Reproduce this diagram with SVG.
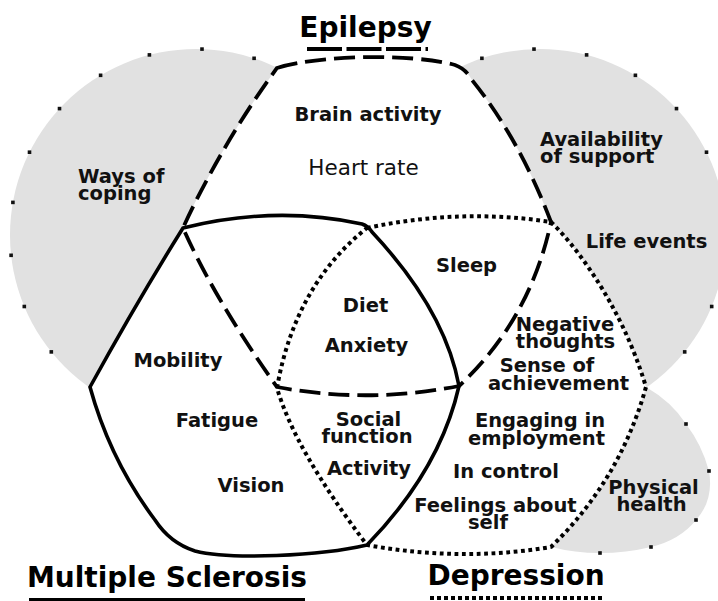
<svg xmlns="http://www.w3.org/2000/svg" xmlns:xlink="http://www.w3.org/1999/xlink" width="718" height="601" viewBox="0 0 718 601">
<style>
  .grey { fill: #e1e1e1; stroke: none; }
  .white { fill: #ffffff; stroke: none; }
  .tick { fill: #111; }
  .ep { fill: none; stroke: #000; stroke-width: 3.8; stroke-dasharray: 21 8; }
  .ms { fill: none; stroke: #000; stroke-width: 3.6; }
  .dep { fill: none; stroke: #000; stroke-width: 4; stroke-dasharray: 3.8 3.6; }
  .lbl { font-family: "DejaVu Sans", Verdana, sans-serif; font-weight: bold; font-size: 19.5px; fill: #111; text-anchor: middle; }
  .st { text-anchor: start; }
  .reg { font-weight: normal; font-size: 21.5px; }
  .title { font-family: "DejaVu Sans", Verdana, sans-serif; font-weight: bold; font-size: 28px; fill: #000; text-anchor: middle; }
</style>
<defs>
  <path id="p-ep" d="M 277,68 C 320,55 410,53 455,65 Q 466,69 472,80 Q 520,140 551,222 Q 530,320 459,386 Q 368,404 277,387 Q 215,300 183,228 C 200,190 235,125 277,68 Z"/>
  <path id="p-ms" d="M 183,228 Q 275,205 362,224 Q 368,226 372,232 Q 445,310 459,386 Q 440,470 367,545 C 320,556 230,560 195,551 Q 170,543 155,520 Q 110,460 90,387 Q 138,300 183,228 Z"/>
  <path id="p-dep" d="M 367,228 Q 460,208 551,222 C 570,240 620,300 646,387 Q 620,480 551,547 Q 460,562 367,545 Q 295,450 277,388 Q 295,285 367,228 Z"/>
  <rect id="dot" x="-1.8" y="-1.8" width="3.6" height="3.6"/>
</defs>

<g id="coping">
  <circle class="grey" cx="196" cy="235" r="186"/>
  <g class="tick">
    <use xlink:href="#dot" x="254.1" y="58.3"/>
    <use xlink:href="#dot" x="202" y="49.1"/>
    <use xlink:href="#dot" x="149.4" y="54.9"/>
    <use xlink:href="#dot" x="100.6" y="75.3"/>
    <use xlink:href="#dot" x="59.5" y="108.6"/>
    <use xlink:href="#dot" x="29.5" y="152.2"/>
    <use xlink:href="#dot" x="12.9" y="202.4"/>
    <use xlink:href="#dot" x="11.1" y="255.3"/>
    <use xlink:href="#dot" x="24.3" y="306.5"/>
    <use xlink:href="#dot" x="51.3" y="351.9"/>
  </g>
  <text class="lbl st" x="78" y="183">Ways of</text>
  <text class="lbl st" x="78" y="200">coping</text>
</g>

<g id="support">
  <circle class="grey" cx="540" cy="235" r="186"/>
  <g class="tick">
    <use xlink:href="#dot" x="481.9" y="58.3"/>
    <use xlink:href="#dot" x="534" y="49.1"/>
    <use xlink:href="#dot" x="586.6" y="54.9"/>
    <use xlink:href="#dot" x="635.4" y="75.3"/>
    <use xlink:href="#dot" x="676.5" y="108.6"/>
    <use xlink:href="#dot" x="706.5" y="152.2"/>
    <use xlink:href="#dot" x="711.7" y="306.5"/>
    <use xlink:href="#dot" x="684.7" y="351.9"/>
  </g>
  <text class="lbl st" x="540" y="146">Availability</text>
  <text class="lbl st" x="540" y="163">of support</text>
  <text class="lbl" x="646.5" y="248">Life events</text>
</g>

<g id="physical">
  <path class="grey" d="M 646,387 Q 672,402 686,424 Q 702,445 709,471 Q 714,500 696,520 Q 680,540 651,547 Q 626,553 600,553 Q 575,553 551,547 Z"/>
  <g class="tick">
    <use xlink:href="#dot" x="686" y="424"/>
    <use xlink:href="#dot" x="709" y="471"/>
    <use xlink:href="#dot" x="696" y="520"/>
    <use xlink:href="#dot" x="651" y="547"/>
    <use xlink:href="#dot" x="600" y="553"/>
  </g>
</g>

<g id="set-fills">
  <use xlink:href="#p-ep" class="white"/>
  <use xlink:href="#p-ms" class="white"/>
  <use xlink:href="#p-dep" class="white"/>
</g>

<g id="physical-label">
  <text class="lbl" x="653.5" y="494">Physical</text>
  <text class="lbl" x="651.5" y="511">health</text>
</g>

<g id="connectors"></g>

<g id="epilepsy">
  <use xlink:href="#p-ep" class="ep"/>
  <text class="title" x="365.5" y="37">Epilepsy</text>
  <line x1="307" y1="49" x2="428" y2="49" stroke="#000" stroke-width="4" stroke-dasharray="35 4.5"/>
  <text class="lbl" x="368" y="121">Brain activity</text>
  <text class="lbl reg" x="363.5" y="175">Heart rate</text>
</g>

<g id="multiple-sclerosis">
  <use xlink:href="#p-ms" class="ms"/>
  <text class="title" x="167" y="587">Multiple Sclerosis</text>
  <line x1="29" y1="599.5" x2="305" y2="599.5" stroke="#000" stroke-width="3"/>
  <text class="lbl" x="178" y="367">Mobility</text>
  <text class="lbl" x="217" y="427">Fatigue</text>
  <text class="lbl" x="251" y="492">Vision</text>
</g>

<g id="depression">
  <use xlink:href="#p-dep" class="dep"/>
  <text class="title" x="516" y="585">Depression</text>
  <line x1="430" y1="598" x2="603" y2="598" stroke="#000" stroke-width="4" stroke-dasharray="4 3"/>
  <text class="lbl" x="565" y="331">Negative</text>
  <text class="lbl" x="565.5" y="348">thoughts</text>
  <text class="lbl" x="547" y="372">Sense of</text>
  <text class="lbl" x="558.5" y="390">achievement</text>
  <text class="lbl" x="540" y="427">Engaging in</text>
  <text class="lbl" x="536.5" y="445">employment</text>
  <text class="lbl" x="506" y="478">In control</text>
  <text class="lbl" x="495.5" y="512">Feelings about</text>
  <text class="lbl" x="488" y="529">self</text>
</g>

<g id="epilepsy-depression">
  <text class="lbl" x="466.5" y="272">Sleep</text>
</g>

<g id="all-three">
  <text class="lbl" x="365.5" y="312">Diet</text>
  <text class="lbl" x="366.5" y="352">Anxiety</text>
</g>

<g id="ms-depression">
  <text class="lbl" x="368.5" y="426">Social</text>
  <text class="lbl" x="367" y="443">function</text>
  <text class="lbl" x="369" y="475">Activity</text>
</g>
</svg>
